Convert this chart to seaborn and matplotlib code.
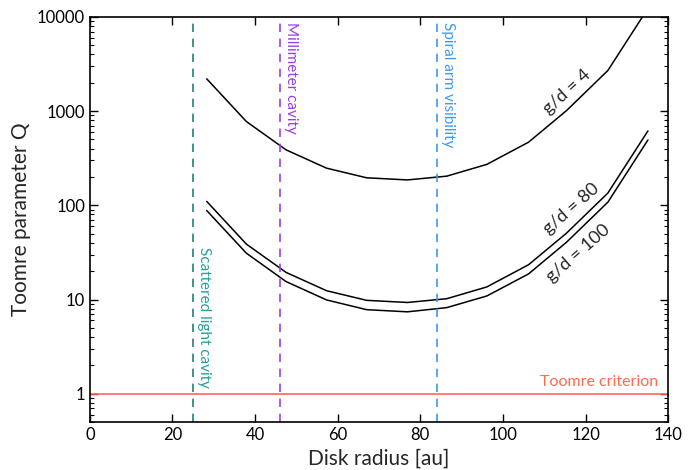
import matplotlib
matplotlib.use("Agg")
import matplotlib.pyplot as plt
import seaborn as sns
import numpy as np
import pandas as pd
from matplotlib.ticker import LogLocator, NullFormatter, FixedLocator

radius = [28.3, 37.9, 47.5, 57.3, 67.0, 76.9, 86.4, 96.1, 106.2, 115.4, 125.4, 135.1]
q_gd4 = [2200, 775, 388, 248, 196, 186, 204, 272, 468, 1014, 2700, 12340]
q_gd80 = [110, 38.7, 19.4, 12.4, 9.8, 9.3, 10.2, 13.6, 23.4, 50.7, 135, 617]
q_gd100 = [88, 31, 15.5, 9.9, 7.8, 7.4, 8.2, 10.9, 18.7, 40.6, 108, 494]
series_names = ["g/d = 4", "g/d = 80", "g/d = 100"]

vlines_x = [25, 46, 84]
vlines_labels = ["Scattered light cavity", "Millimeter cavity", "Spiral arm visibility"]
vline_colors = ["#1f7f7a", "#9b3fe6", "#3d98f5"]
vtext_colors = ["#27a094", "#9b3fe6", "#3d98f5"]
criterion = 1.0

df = pd.DataFrame({
    "radius": radius * 3,
    "Q": q_gd4 + q_gd80 + q_gd100,
    "series": sum([[n] * len(radius) for n in series_names], []),
})

sns.set_style("ticks")
plt.rcParams["font.family"] = ["Lato", "DejaVu Sans"]

fig = plt.figure(figsize=(6.91, 4.70), dpi=100)
ax = fig.add_axes([0.130, 0.102, 0.837, 0.862])

sns.lineplot(data=df, x="radius", y="Q", units="series", estimator=None,
             color="black", lw=1.1, ax=ax, legend=False)

for xv, c in zip(vlines_x, vline_colors):
    ax.axvline(xv, color=c, ls=(0, (5, 4)), lw=1.2)
ax.axhline(criterion, color="#ff6a50", lw=1.2)

ax.set_yscale("log")
ax.set_xlim(0, 140)
ax.set_ylim(0.5, 10000)
ax.xaxis.set_major_locator(FixedLocator([0, 20, 40, 60, 80, 100, 120, 140]))
ax.set_yticks([1, 10, 100, 1000, 10000])
ax.set_yticklabels(["1", "10", "100", "1000", "10000"])
ax.yaxis.set_minor_locator(LogLocator(base=10, subs=np.arange(2, 10)))
ax.yaxis.set_minor_formatter(NullFormatter())
ax.tick_params(which="both", direction="in", top=True, right=True, labelsize=12, colors="black")
ax.tick_params(which="major", length=6, width=1)
ax.tick_params(which="minor", length=3, width=0.8)
for s in ax.spines.values():
    s.set_color("black")
    s.set_linewidth(1.2)

ax.set_xlabel("Disk radius [au]", fontsize=15)
ax.set_ylabel("Toomre parameter Q", fontsize=15)

# vertical line labels
ax.text(26.0, 1.15, vlines_labels[0], rotation=-90, color=vtext_colors[0],
        fontsize=11, ha="left", va="bottom")
ax.text(47.0, 8800, vlines_labels[1], rotation=-90, color=vtext_colors[1],
        fontsize=11, ha="left", va="top")
ax.text(85.0, 8800, vlines_labels[2], rotation=-90, color=vtext_colors[2],
        fontsize=11, ha="left", va="top")
ax.text(137.5, 1.12, "Toomre criterion", color="#ff6a50", fontsize=11.5,
        ha="right", va="bottom")

# curve labels
ax.text(115.6, 1600, series_names[0], rotation=42, fontsize=13,
        ha="center", va="center")
ax.text(116.6, 93, series_names[1], rotation=41, fontsize=13,
        ha="center", va="center")
ax.text(118.2, 31, series_names[2], rotation=41, fontsize=13,
        ha="center", va="center")

fig.savefig("out.png", dpi=100)
